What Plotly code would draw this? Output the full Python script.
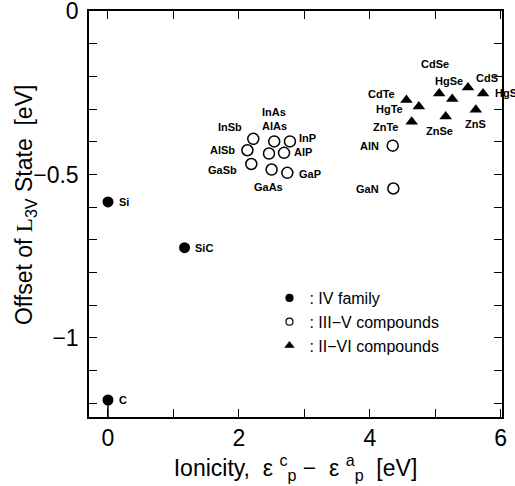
import plotly.graph_objects as go

# IV family (filled circles)
iv_names = ["Si", "SiC", "C"]
iv_x = [0.0, 1.17, 0.0]
iv_y = [-0.584, -0.724, -1.190]

# III-V compounds (open circles)
iii_v_names = ["InSb", "AlAs", "InP", "AlSb", "InAs", "AlP", "GaSb", "GaAs", "GaP", "AlN", "GaN"]
iii_v_x = [2.22, 2.54, 2.78, 2.13, 2.46, 2.69, 2.19, 2.50, 2.74, 4.35, 4.36]
iii_v_y = [-0.391, -0.399, -0.399, -0.426, -0.436, -0.434, -0.468, -0.485, -0.495, -0.412, -0.543]

# II-VI compounds (filled triangles)
ii_vi_names = ["CdTe", "HgTe", "ZnTe", "CdSe", "HgSe", "ZnSe", "CdS", "HgS", "ZnS"]
ii_vi_x = [4.56, 4.75, 4.64, 5.06, 5.26, 5.16, 5.50, 5.73, 5.62]
ii_vi_y = [-0.272, -0.292, -0.339, -0.252, -0.269, -0.323, -0.234, -0.252, -0.302]

# label placement (pixel offsets from the marker: right, down)
label_offsets = {
    "Si": (16, 0), "SiC": (19, 0), "C": (15, 0),
    "InSb": (-23, -12), "AlAs": (0, -15), "InP": (18, -3), "AlSb": (-25, 0),
    "InAs": (5, -42), "AlP": (19, -1), "GaSb": (-29, 6), "GaAs": (-3, 17),
    "GaP": (23, 1), "AlN": (-23, 0), "GaN": (-26, 0),
    "CdTe": (-25, -6), "HgTe": (-29, 3), "ZnTe": (-26, 5), "CdSe": (-4, -29),
    "HgSe": (-3, -18), "ZnSe": (-6, 14), "CdS": (19, -9), "HgS": (23, 0), "ZnS": (0, 14),
}

x_range = [-0.29, 6.02]
y_range = [-1.242, 0.0]

FONT = "Liberation Sans, Arial, sans-serif"

fig = go.Figure()

# stem below C
fig.add_trace(go.Scatter(x=[iv_x[2], iv_x[2]], y=[iv_y[2], y_range[0]], mode="lines",
                         line=dict(color="black", width=1.5), showlegend=False, hoverinfo="skip"))

fig.add_trace(go.Scatter(x=iv_x, y=iv_y, mode="markers", showlegend=False,
                         marker=dict(symbol="circle", size=11, color="black")))
fig.add_trace(go.Scatter(x=iii_v_x, y=iii_v_y, mode="markers", showlegend=False,
                         marker=dict(symbol="circle-open", size=11, color="black",
                                     line=dict(width=1.5, color="black"))))
fig.add_trace(go.Scatter(x=ii_vi_x, y=ii_vi_y, mode="markers", showlegend=False,
                         marker=dict(symbol="triangle-up", size=11, color="black")))

# legend entries with the smaller key symbols
for name, sym in [(": IV family", "circle"), (": III\u2212V compounds", "circle-open"),
                  (": II\u2212VI compounds", "triangle-up")]:
    fig.add_trace(go.Scatter(x=[None], y=[None], mode="markers", name=name,
                             marker=dict(symbol=sym, size=7, color="black",
                                         line=dict(width=1.2, color="black"))))

for names, xs, ys in [(iv_names, iv_x, iv_y), (iii_v_names, iii_v_x, iii_v_y),
                      (ii_vi_names, ii_vi_x, ii_vi_y)]:
    for n, x, y in zip(names, xs, ys):
        dx, dy = label_offsets[n]
        fig.add_annotation(x=x, y=y, text="<b>%s</b>" % n, showarrow=False,
                           xshift=dx, yshift=-dy,
                           font=dict(family=FONT, size=11, color="black"))

# y title as a rotated annotation so it can sit closer to the tick labels
fig.add_annotation(xref="paper", yref="paper", x=-0.155, y=0.522, textangle=-90,
                   xanchor="center", yanchor="middle", showarrow=False,
                   text="Offset of <span style='font-family:Liberation Serif, serif'>L</span><sub>3V</sub> State  [eV]",
                   font=dict(family=FONT, size=23, color="black"))

y_ticks = [round(-0.1 * i, 1) for i in range(13)]
y_text = {0.0: "0", -0.5: "\u22120.5", -1.0: "\u22121"}
x_ticks = list(range(7))

fig.update_xaxes(range=x_range, tickvals=x_ticks, automargin=False,
                 ticklabeloverflow="allow",
                 ticktext=[str(v) if v % 2 == 0 else "" for v in x_ticks],
                 ticks="inside", ticklen=8, tickwidth=1.2, tickcolor="black",
                 showline=True, linecolor="black", linewidth=1.5, mirror="allticks",
                 showgrid=False, zeroline=False,
                 tickfont=dict(family=FONT, size=23, color="black"),
                 title=dict(text="Ionicity,  \u03b5 <sup>c</sup><sub>p</sub> \u2212  \u03b5 <sup>a</sup><sub>p</sub>  [eV]",
                            font=dict(family=FONT, size=23, color="black"), standoff=2))
fig.update_yaxes(range=y_range, tickvals=y_ticks, automargin=False,
                 ticklabeloverflow="allow", ticklabelstandoff=4,
                 ticktext=[y_text.get(v, "") for v in y_ticks],
                 ticks="inside", ticklen=8, tickwidth=1.2, tickcolor="black",
                 showline=True, linecolor="black", linewidth=1.5, mirror="allticks",
                 showgrid=False, zeroline=False,
                 tickfont=dict(family=FONT, size=23, color="black"))

fig.update_layout(
    width=515, height=486,
    margin=dict(l=89, r=13, t=11, b=69),
    plot_bgcolor="white", paper_bgcolor="white",
    legend=dict(x=0.437, y=0.335, xanchor="left", yanchor="top",
                bgcolor="rgba(0,0,0,0)", itemsizing="trace", itemwidth=30,
                tracegroupgap=0, font=dict(family=FONT, size=16, color="black")),
)

# drop the default page margin so the figure sits at the window's corner
fig.write_html("out.html", config={"displayModeBar": False},
               post_script="document.body.style.margin='0';")
